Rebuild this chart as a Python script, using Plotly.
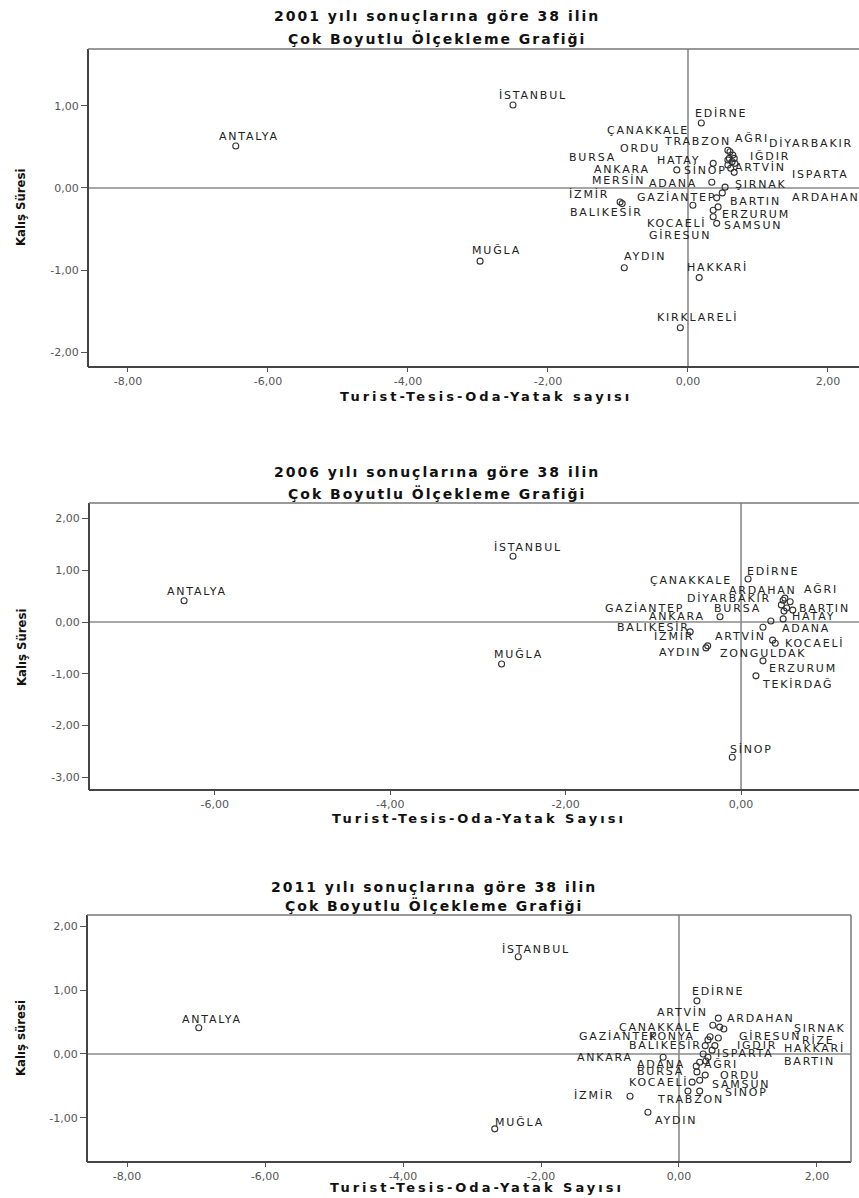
import plotly.graph_objects as go

W, H = 859, 1198

# ---------------- 2001 ----------------
cities_2001 = ["ANTALYA", "İSTANBUL", "MUĞLA", "AYDIN", "HAKKARİ", "KIRKLARELİ", "EDİRNE",
               "ÇANAKKALE", "TRABZON", "AĞRI", "DİYARBAKIR", "BURSA", "ORDU", "HATAY", "IĞDIR",
               "ANKARA", "SİNOP", "ARTVİN", "ISPARTA", "MERSİN", "ADANA", "ŞIRNAK", "İZMİR",
               "GAZİANTEP", "BARTIN", "ARDAHAN", "BALIKESİR", "ERZURUM", "KOCAELİ", "SAMSUN", "GİRESUN"]
x_2001 = [-6.46, -2.50, -2.97, -0.91, 0.16, -0.11, 0.19,
          0.63, 0.59, 0.57, 0.60, 0.66, 0.57, 0.57, 0.64,
          -0.16, 0.36, 0.61, 0.67, 0.53, 0.34, 0.49, -0.97,
          0.07, 0.41, 0.66, -0.94, 0.43, 0.36, 0.36, 0.41]
y_2001 = [0.51, 1.01, -0.89, -0.97, -1.09, -1.70, 0.79,
          0.32, 0.36, 0.46, 0.44, 0.36, 0.28, 0.34, 0.40,
          0.22, 0.30, 0.24, 0.30, 0.01, 0.07, -0.06, -0.17,
          -0.21, -0.12, 0.19, -0.19, -0.23, -0.27, -0.35, -0.43]
# label placement offsets in pixels (left edge of label relative to point)
lab_dx_2001 = [-19, -16, -10, -2, -14, -25, -8,
               -127, -67, 5, 37, -167, -110, -73, 15,
               -85, -31, 2, 55, -135, -65, 11, -53,
               -58, 11, 56, -54, 2, -68, 9, -70]
lab_dy_2001 = [10, 9, 11, 11, 10, 10, 10,
               31, 17, 12, 8, 1, 16, 0, -1,
               0, -7, 1, -11, 7, -1, 8, 7,
               8, -4, -25, -9, -8, -13, -9, -12]

# ---------------- 2006 ----------------
cities_2006 = ["ANTALYA", "İSTANBUL", "MUĞLA", "SİNOP", "TEKİRDAĞ", "ERZURUM", "EDİRNE",
               "ÇANAKKALE", "ARDAHAN", "AĞRI", "DİYARBAKIR", "BURSA", "BARTIN", "GAZİANTEP",
               "ANKARA", "HATAY", "BALIKESİR", "ADANA", "İZMİR", "AYDIN", "ARTVİN", "KOCAELİ",
               "ZONGULDAK"]
x_2006 = [-6.35, -2.60, -2.73, -0.10, 0.17, 0.25, 0.08,
          0.48, 0.50, 0.56, 0.46, 0.52, 0.59, 0.49,
          -0.24, 0.48, -0.58, 0.25, -0.38, -0.40, 0.34, 0.39,
          0.36]
y_2006 = [0.41, 1.27, -0.81, -2.61, -1.04, -0.75, 0.83,
          0.42, 0.46, 0.39, 0.33, 0.27, 0.23, 0.21,
          0.10, 0.06, -0.19, -0.10, -0.46, -0.50, 0.02, -0.41,
          -0.35]
lab_dx_2006 = [-19, -21, -10, -4, 4, 4, -3,
               -135, -58, 12, -96, -75, 4, -181,
               -73, 7, -75, 17, -56, -49, -58, 8,
               -55]
lab_dy_2006 = [9, 9, 9, 8, -9, -8, 8,
               20, 8, 12, 6, 0, 2, 3,
               0, 2, 4, -1, 9, -5, -16, 0,
               -13]

# ---------------- 2011 ----------------
cities_2011 = ["ANTALYA", "İSTANBUL", "MUĞLA", "İZMİR", "AYDIN", "ANKARA", "EDİRNE",
               "ARDAHAN", "ARTVİN", "ÇANAKKALE", "ŞIRNAK", "KONYA", "GAZİANTEP", "GİRESUN",
               "BALIKESİR", "IĞDIR", "RİZE", "ISPARTA", "HAKKARİ", "BARTIN", "ADANA", "AĞRI",
               "BURSA", "ORDU", "KOCAELİ", "SAMSUN", "SİNOP", "TRABZON"]
x_2011 = [-6.96, -2.33, -2.67, -0.71, -0.45, -0.23, 0.26,
          0.57, 0.49, 0.59, 0.65, 0.45, 0.42, 0.57,
          0.38, 0.52, 0.48, 0.35, 0.42, 0.39, 0.30, 0.25,
          0.26, 0.38, 0.19, 0.30, 0.30, 0.13]
y_2011 = [0.41, 1.52, -1.17, -0.66, -0.91, -0.05, 0.83,
          0.56, 0.45, 0.42, 0.39, 0.27, 0.22, 0.25,
          0.13, 0.13, 0.06, 0.00, -0.05, -0.11, -0.13, -0.19,
          -0.28, -0.33, -0.44, -0.41, -0.58, -0.58]
lab_dx_2011 = [-19, -18, -2, -58, 5, -88, -7,
               7, -58, -103, 68, -63, -131, 19,
               -78, 20, 88, 12, 74, 76, -65, 6,
               -62, 13, -65, 10, 23, -33]
lab_dy_2011 = [8, 7, 6, 1, -8, 0, 9,
               0, 13, 0, 1, 0, 3, 1,
               0, 0, 10, 0, 9, 0, -2, 2,
               0, 0, 0, -4, -1, -8]

panels = [
    dict(cities=cities_2001, x=x_2001, y=y_2001, dx=lab_dx_2001, dy=lab_dy_2001,
         px=(88, W), py=(49, 367), xr=[-8.571, 2.443], yr=[-2.178, 1.691],
         xt=[-8, -6, -4, -2, 0, 2], yt=[-2, -1, 0, 1],
         t1="2001 yılı sonuçlarına göre 38 ilin", t2="Çok Boyutlu Ölçekleme Grafiği",
         ty=(16, 39), tx=437,
         xtitle="Turist-Tesis-Oda-Yatak sayısı", xtp=(486, 396),
         ytitle="Kalış Süresi", ytp=(21, 208), right=False),
    dict(cities=cities_2006, x=x_2006, y=y_2006, dx=lab_dx_2006, dy=lab_dy_2006,
         px=(89, W), py=(503, 790), xr=[-7.434, 1.345], yr=[-3.243, 2.297],
         xt=[-6, -4, -2, 0], yt=[-3, -2, -1, 0, 1, 2],
         t1="2006 yılı sonuçlarına göre 38 ilin", t2="Çok Boyutlu Ölçekleme Grafiği",
         ty=(472, 493), tx=437,
         xtitle="Turist-Tesis-Oda-Yatak Sayısı", xtp=(479, 818),
         ytitle="Kalış Süresi", ytp=(22, 648), right=False),
    dict(cities=cities_2011, x=x_2011, y=y_2011, dx=lab_dx_2011, dy=lab_dy_2011,
         px=(87, 851), py=(915, 1162), xr=[-8.580, 2.493], yr=[-1.688, 2.172],
         xt=[-8, -6, -4, -2, 0, 2], yt=[-1, 0, 1, 2],
         t1="2011 yılı sonuçlarına göre 38 ilin", t2="Çok Boyutlu Ölçekleme Grafiği",
         ty=(887, 905), tx=434,
         xtitle="Turist-Tesis-Oda-Yatak Sayısı", xtp=(477, 1187),
         ytitle="Kalış süresi", ytp=(20, 1038), right=True),
]


def fmt(v):
    return f"{v:.2f}".replace(".", ",")


def spaced(t, ls):
    return f'<span style="letter-spacing:{ls}px">{t}</span>'


fig = go.Figure()
annotations = []
shapes = []
layout = dict(width=W, height=H, margin=dict(l=0, r=0, t=0, b=0),
              paper_bgcolor="white", plot_bgcolor="white", showlegend=False)

LABEL_FONT = dict(family="DejaVu Sans", size=11, color="#222")
TICK_FONT = dict(family="DejaVu Sans", size=11, color="#555")
TITLE_FONT = dict(family="DejaVu Sans", size=14, color="#111", weight="bold")
AXTITLE_FONT = dict(family="DejaVu Sans", size=13, color="#111", weight="bold")

for i, p in enumerate(panels, start=1):
    xa = "x" if i == 1 else f"x{i}"
    ya = "y" if i == 1 else f"y{i}"
    xkey = "xaxis" if i == 1 else f"xaxis{i}"
    ykey = "yaxis" if i == 1 else f"yaxis{i}"

    fig.add_trace(go.Scatter(
        x=p["x"], y=p["y"], mode="markers", xaxis=xa, yaxis=ya,
        marker=dict(symbol="circle-open", size=6, color="#333", line=dict(width=1.1)),
        hovertext=p["cities"], hoverinfo="text", cliponaxis=False))

    layout[xkey] = dict(domain=[p["px"][0] / W, p["px"][1] / W], range=p["xr"],
                        anchor=ya, tickvals=p["xt"], ticktext=[fmt(v) for v in p["xt"]],
                        ticks="outside", ticklen=4, tickcolor="#555", tickwidth=1,
                        tickfont=TICK_FONT, showgrid=False, zeroline=False, showline=False)
    layout[ykey] = dict(domain=[1 - p["py"][1] / H, 1 - p["py"][0] / H], range=p["yr"],
                        anchor=xa, tickvals=p["yt"], ticktext=[fmt(v) for v in p["yt"]],
                        ticks="outside", ticklen=6, tickcolor="#555", tickwidth=1,
                        tickfont=TICK_FONT, showgrid=False, zeroline=False, showline=False)

    xd = f"{xa} domain"
    yd = f"{ya} domain"
    # reference lines at zero
    shapes.append(dict(type="line", xref=xa, yref=yd, x0=0, x1=0, y0=0, y1=1,
                       line=dict(color="#8a8a8a", width=1.6), layer="below"))
    shapes.append(dict(type="line", xref=xd, yref=ya, x0=0, x1=1, y0=0, y1=0,
                       line=dict(color="#8a8a8a", width=1.6), layer="below"))
    # frame
    shapes.append(dict(type="line", xref=xd, yref=yd, x0=0, x1=0, y0=0, y1=1,
                       line=dict(color="#444", width=2)))
    shapes.append(dict(type="line", xref=xd, yref=yd, x0=0, x1=1, y0=0, y1=0,
                       line=dict(color="#444", width=2)))
    shapes.append(dict(type="line", xref=xd, yref=yd, x0=0, x1=1, y0=1, y1=1,
                       line=dict(color="#777", width=1.5)))
    if p["right"]:
        shapes.append(dict(type="line", xref=xd, yref=yd, x0=1, x1=1, y0=0, y1=1,
                           line=dict(color="#777", width=1.5)))

    # point labels
    for name, xv, yv, dx, dy in zip(p["cities"], p["x"], p["y"], p["dx"], p["dy"]):
        annotations.append(dict(xref=xa, yref=ya, x=xv, y=yv, text=spaced(name, 1.8),
                                showarrow=False, xanchor="left", yanchor="middle",
                                xshift=dx, yshift=dy, font=LABEL_FONT))

    # titles
    for t, ty in zip((p["t1"], p["t2"]), p["ty"]):
        annotations.append(dict(xref="paper", yref="paper", x=p["tx"] / W, y=1 - ty / H,
                                text=spaced(t, 2.0), showarrow=False,
                                xanchor="center", yanchor="middle", font=TITLE_FONT))
    annotations.append(dict(xref="paper", yref="paper", x=p["xtp"][0] / W, y=1 - p["xtp"][1] / H,
                            text=spaced(p["xtitle"], 3.0), showarrow=False,
                            xanchor="center", yanchor="middle", font=AXTITLE_FONT))
    annotations.append(dict(xref="paper", yref="paper", x=p["ytp"][0] / W, y=1 - p["ytp"][1] / H,
                            text=p["ytitle"], showarrow=False, textangle=-90,
                            xanchor="center", yanchor="middle",
                            font=dict(family="Liberation Sans Narrow, DejaVu Sans Condensed, Liberation Sans",
                                      size=13, color="#111", weight="bold")))

layout["annotations"] = annotations
layout["shapes"] = shapes
fig.update_layout(**layout)
fig.write_html("out.html", config={"displayModeBar": False},
               post_script="document.body.style.margin='0';document.body.style.overflow='hidden';")
